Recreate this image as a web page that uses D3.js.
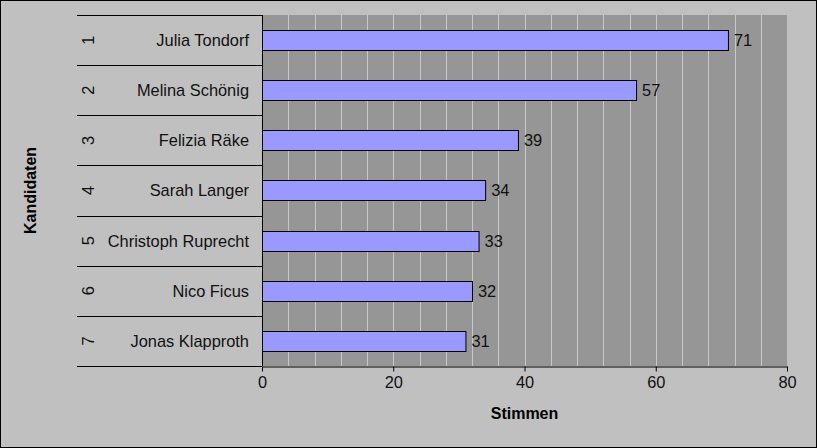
<!DOCTYPE html>
<html lang="de">
<head>
<meta charset="utf-8">
<title>Stimmen</title>
<script src="https://d3js.org/d3.v7.min.js"></script>
<style>
  html, body { margin:0; padding:0; background:#c0c0c0; }
  svg { display:block; }
</style>
</head>
<body>
<svg width="817" height="448"></svg>
<script>
// data
var ranks = ["1", "2", "3", "4", "5", "6", "7"];
var names = ["Julia Tondorf", "Melina Schönig", "Felizia Räke", "Sarah Langer",
             "Christoph Ruprecht", "Nico Ficus", "Jonas Klapproth"];
var votes = [71, 57, 39, 34, 33, 32, 31];
var xTicks = [0, 20, 40, 60, 80];

var svg = d3.select("svg");
var W = 817, H = 448;
var plot = {left: 262, right: 787, top: 15, bottom: 366};
var labelLeft = 77;
var font = "Liberation Sans, Arial, sans-serif";
var fs = 16.4;

// outer frame
svg.append("rect")
    .attr("x", 0.5).attr("y", 0.5)
    .attr("width", W - 1).attr("height", H - 1)
    .attr("fill", "#c0c0c0").attr("stroke", "#000");

var x = d3.scaleLinear().domain([0, 80]).range([plot.left, plot.right]);
var y = d3.scaleBand().domain(d3.range(names.length))
    .range([plot.top, plot.bottom]).paddingInner(0.6).paddingOuter(0.3);
var row = d3.scaleBand().domain(d3.range(names.length))
    .range([plot.top, plot.bottom]);

// plot area
svg.append("rect")
    .attr("x", plot.left).attr("y", plot.top)
    .attr("width", plot.right - plot.left).attr("height", plot.bottom - plot.top)
    .attr("fill", "#969696");

// minor gridlines every 4
svg.append("g").selectAll("line")
    .data(d3.range(4, 80, 4))
    .join("line")
    .attr("x1", d => Math.round(x(d)) + 0.5).attr("x2", d => Math.round(x(d)) + 0.5)
    .attr("y1", plot.top).attr("y2", plot.bottom)
    .attr("stroke", "#c8c8c8").attr("stroke-width", 1);

// bars
svg.append("g").selectAll("rect")
    .data(votes)
    .join("rect")
    .attr("x", x(0) + 0.5)
    .attr("y", (d, i) => Math.round(y(i)) + 0.5)
    .attr("width", d => x(d) - x(0))
    .attr("height", Math.round(y.bandwidth()))
    .attr("fill", "#9999ff").attr("stroke", "#000").attr("stroke-width", 1);

// value labels
svg.append("g").selectAll("text")
    .data(votes)
    .join("text")
    .attr("x", d => x(d) + 6)
    .attr("y", (d, i) => row(i) + row.bandwidth() / 2)
    .attr("dy", "0.36em")
    .attr("font-family", font).attr("font-size", fs)
    .attr("fill", "#111")
    .text(d => d);

// category separators on the left
svg.append("g").selectAll("line")
    .data(d3.range(names.length + 1))
    .join("line")
    .attr("x1", labelLeft).attr("x2", plot.left)
    .attr("y1", d => Math.round(d === names.length ? plot.bottom : row(d)) + 0.5)
    .attr("y2", d => Math.round(d === names.length ? plot.bottom : row(d)) + 0.5)
    .attr("stroke", "#000");

// names
svg.append("g").selectAll("text")
    .data(names)
    .join("text")
    .attr("x", 249)
    .attr("y", (d, i) => row(i) + row.bandwidth() / 2)
    .attr("dy", "0.36em")
    .attr("text-anchor", "end")
    .attr("font-family", font).attr("font-size", fs)
    .attr("fill", "#111")
    .text(d => d);

// rank numbers, rotated
svg.append("g").selectAll("text")
    .data(ranks)
    .join("text")
    .attr("transform", (d, i) => "translate(88," + (row(i) + row.bandwidth() / 2) + ") rotate(-90)")
    .attr("dy", "0.36em")
    .attr("text-anchor", "middle")
    .attr("font-family", font).attr("font-size", fs)
    .attr("fill", "#111")
    .text(d => d);

// axes
svg.append("line")
    .attr("x1", plot.left + 0.5).attr("x2", plot.left + 0.5)
    .attr("y1", plot.top).attr("y2", plot.bottom)
    .attr("stroke", "#000");

var xAxis = svg.append("g")
    .attr("transform", "translate(0," + (plot.bottom + 0.5) + ")")
    .call(d3.axisBottom(x).tickValues(xTicks).tickSize(5).tickSizeOuter(0).tickPadding(5));
xAxis.select(".domain").attr("stroke", "#000");
xAxis.selectAll(".tick line").attr("stroke", "#000");
xAxis.selectAll(".tick text")
    .attr("font-family", font).attr("font-size", fs).attr("fill", "#111");

// axis titles
svg.append("text")
    .attr("x", (plot.left + plot.right) / 2)
    .attr("y", 419)
    .attr("text-anchor", "middle")
    .attr("font-family", font).attr("font-size", 16).attr("font-weight", "bold")
    .text("Stimmen");

svg.append("text")
    .attr("transform", "translate(36," + (plot.top + plot.bottom) / 2 + ") rotate(-90)")
    .attr("text-anchor", "middle")
    .attr("font-family", font).attr("font-size", 16).attr("font-weight", "bold")
    .text("Kandidaten");
</script>
</body>
</html>
